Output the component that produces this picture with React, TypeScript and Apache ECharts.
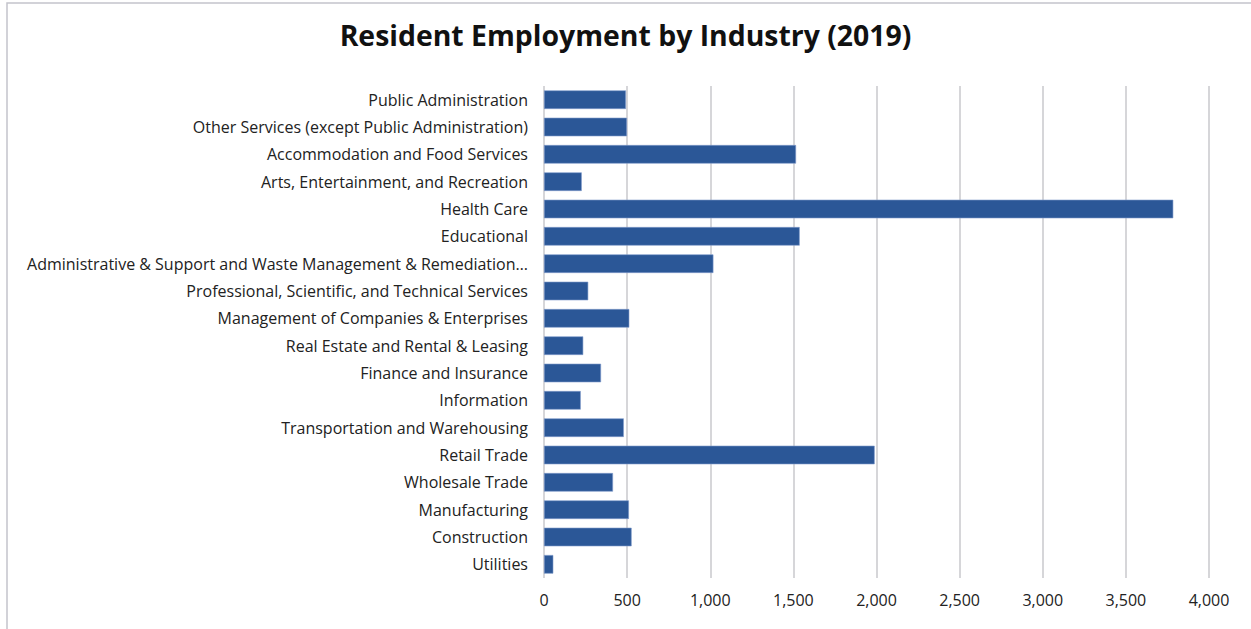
import React, { useEffect, useRef } from "react";
import * as echarts from "echarts";

const categories = [
  "Public Administration",
  "Other Services (except Public Administration)",
  "Accommodation and Food Services",
  "Arts, Entertainment, and Recreation",
  "Health Care",
  "Educational",
  "Administrative & Support and Waste Management & Remediation…",
  "Professional, Scientific, and Technical Services",
  "Management of Companies & Enterprises",
  "Real Estate and Rental & Leasing",
  "Finance and Insurance",
  "Information",
  "Transportation and Warehousing",
  "Retail Trade",
  "Wholesale Trade",
  "Manufacturing",
  "Construction",
  "Utilities",
];

const employment = [
  493, 499, 1516, 227, 3785, 1538, 1019, 266, 513, 236, 343, 221, 480, 1989, 415, 511, 527, 56,
];

const xTicks = { min: 0, max: 4000, interval: 500 };

const titleText = "Resident Employment by Industry (2019)";

export default function App() {
  const ref = useRef<HTMLDivElement>(null);

  useEffect(() => {
    if (!ref.current) return;
    const chart = echarts.init(ref.current, null, { renderer: "svg" });
    const font = "'Open Sans', sans-serif";
    chart.setOption({
      animation: false,
      backgroundColor: "#ffffff",
      title: {
        text: titleText,
        left: "center",
        top: 16,
        textStyle: {
          fontFamily: font,
          fontSize: 28.4,
          fontWeight: "bold",
          color: "#111111",
        },
      },
      graphic: [
        {
          type: "rect",
          shape: { x: 7, y: 3, width: 1400, height: 800 },
          style: { fill: "none", stroke: "#c4c4cb", lineWidth: 1.5 },
          silent: true,
          z: 0,
        },
      ],
      grid: { left: 544, right: 42, top: 86, bottom: 51, containLabel: false },
      xAxis: {
        type: "value",
        min: xTicks.min,
        max: xTicks.max,
        interval: xTicks.interval,
        axisLine: { show: false },
        axisTick: { show: false },
        splitLine: { show: true, lineStyle: { color: "#c8c8cc", width: 1.5 } },
        axisLabel: {
          fontFamily: font,
          fontSize: 16,
          color: "#222222",
          margin: 14,
          formatter: (v: number) => v.toLocaleString("en-US"),
        },
      },
      yAxis: {
        type: "category",
        data: categories,
        inverse: true,
        axisLine: { show: false },
        axisTick: { show: false },
        axisLabel: {
          fontFamily: font,
          fontSize: 16,
          color: "#222222",
          margin: 16,
        },
      },
      series: [
        {
          type: "bar",
          data: employment,
          barCategoryGap: "32%",
          itemStyle: {
            color: "#2b5797",
            borderColor: "#7f9acb",
            borderWidth: 0.6,
          },
        },
      ],
    });
    return () => chart.dispose();
  }, []);

  return (
    <div
      ref={ref}
      style={{ position: "absolute", left: 0, top: 0, width: 1251, height: 629 }}
    />
  );
}
